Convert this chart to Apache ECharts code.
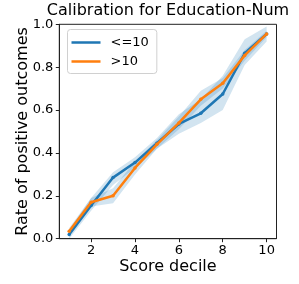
<!DOCTYPE html>
<html>
<head>
<meta charset="utf-8">
<script src="https://cdn.jsdelivr.net/npm/echarts@6/dist/echarts.min.js"></script>
<style>html,body{margin:0;padding:0;background:#fff}#c{width:299px;height:284px}</style>
</head>
<body>
<div id="c"></div>
<script>
const titleText = 'Calibration for Education-Num';
const xName = 'Score decile';
const yName = 'Rate of positive outcomes';
const seriesNames = ['<=10', '>10'];
const deciles = [1, 2, 3, 4, 5, 6, 7, 8, 9, 10];
const xTicks = [2, 4, 6, 8, 10];
const lowEdu = [0.02, 0.155, 0.285, 0.355, 0.445, 0.535, 0.585, 0.675, 0.865, 0.955];
const highEdu = [0.035, 0.17, 0.20, 0.33, 0.44, 0.54, 0.65, 0.725, 0.855, 0.955];
const lowEduLower = [0.0, 0.13, 0.25, 0.33, 0.42, 0.49, 0.54, 0.60, 0.81, 0.92];
const lowEduUpper = [0.04, 0.19, 0.31, 0.38, 0.47, 0.58, 0.65, 0.76, 0.93, 0.99];
const highEduLower = [0.02, 0.15, 0.165, 0.30, 0.42, 0.51, 0.62, 0.70, 0.83, 0.94];
const highEduUpper = [0.05, 0.19, 0.235, 0.36, 0.46, 0.57, 0.69, 0.75, 0.88, 0.97];

const FONT = 'DejaVu Sans';
const C0 = '#1f77b4', C1 = '#ff7f0e';
const pairs = (arr) => deciles.map((d, i) => [d, arr[i]]);
const legendIcon = 'path://M0,0L0,0Z M29,14L29,14Z M0,5.75H29V8.25H0Z';

function band(lo, hi) {
  return {
    type: 'custom', silent: true, z: 1, clip: true,
    data: [[deciles[0], lo[0]]],
    renderItem: function (params, api) {
      const top = deciles.map((d, i) => api.coord([d, hi[i]]));
      const bot = deciles.map((d, i) => api.coord([d, lo[i]])).reverse();
      return { type: 'polygon', shape: { points: top.concat(bot) },
        style: { fill: 'rgba(31,119,180,0.2)', stroke: null } };
    }
  };
}

const chart = echarts.init(document.getElementById('c'), null, { renderer: 'canvas' });
chart.setOption({
  animation: false,
  backgroundColor: '#fff',
  title: {
    text: titleText, left: 168, top: 3, textAlign: 'center', padding: 0,
    textStyle: { fontFamily: FONT, fontSize: 16, fontWeight: 'normal', color: '#000' }
  },
  grid: { left: 59.3, right: 22.5, top: 24.3, bottom: 45.3, show: true,
    borderColor: '#222', borderWidth: 1, backgroundColor: 'transparent' },
  legend: {
    orient: 'vertical', left: 67.5, top: 29.5,
    data: seriesNames.map(n => ({ name: n, icon: legendIcon })),
    itemWidth: 29, itemHeight: 14, itemGap: 5,
    padding: [6, 8, 5, 4],
    borderColor: '#d0d0d0', borderWidth: 1, borderRadius: 3,
    backgroundColor: 'rgba(255,255,255,0.8)',
    textStyle: { fontFamily: FONT, fontSize: 13, color: '#000', lineHeight: 14, padding: [0, 0, 0, 5] }
  },
  xAxis: {
    type: 'value', min: 0.55, max: 10.45,
    name: xName, nameLocation: 'middle', nameGap: 20.5, nameMoveOverlap: false,
    nameTextStyle: { fontFamily: FONT, fontSize: 16, color: '#000' },
    axisLine: { show: true, onZero: false, lineStyle: { color: '#222', width: 1 } },
    axisTick: { show: true, length: 3.5, inside: false, customValues: xTicks, lineStyle: { color: '#222' } },
    axisLabel: { customValues: xTicks, margin: 5, fontFamily: FONT, fontSize: 13, color: '#000' },
    splitLine: { show: false }
  },
  yAxis: {
    type: 'value', min: 0, max: 1, interval: 0.2,
    name: yName, nameLocation: 'middle', nameGap: 28, nameMoveOverlap: false,
    nameTextStyle: { fontFamily: FONT, fontSize: 16, color: '#000' },
    axisLine: { show: true, lineStyle: { color: '#222', width: 1 } },
    axisTick: { show: true, length: 3.5, lineStyle: { color: '#222' } },
    axisLabel: { margin: 6, fontFamily: FONT, fontSize: 13, color: '#000',
      formatter: v => v.toFixed(1) },
    splitLine: { show: false }
  },
  series: [
    band(lowEduLower, lowEduUpper),
    band(highEduLower, highEduUpper),
    { name: seriesNames[0], type: 'line', data: pairs(lowEdu), color: C0,
      lineStyle: { width: 2.5, color: C0 }, symbol: 'circle', symbolSize: 3.5,
      itemStyle: { color: C0 }, z: 3 },
    { name: seriesNames[1], type: 'line', data: pairs(highEdu), color: C1,
      lineStyle: { width: 2.5, color: C1 }, symbol: 'circle', symbolSize: 3.5,
      itemStyle: { color: C1 }, z: 4 }
  ]
});
</script>
</body>
</html>
